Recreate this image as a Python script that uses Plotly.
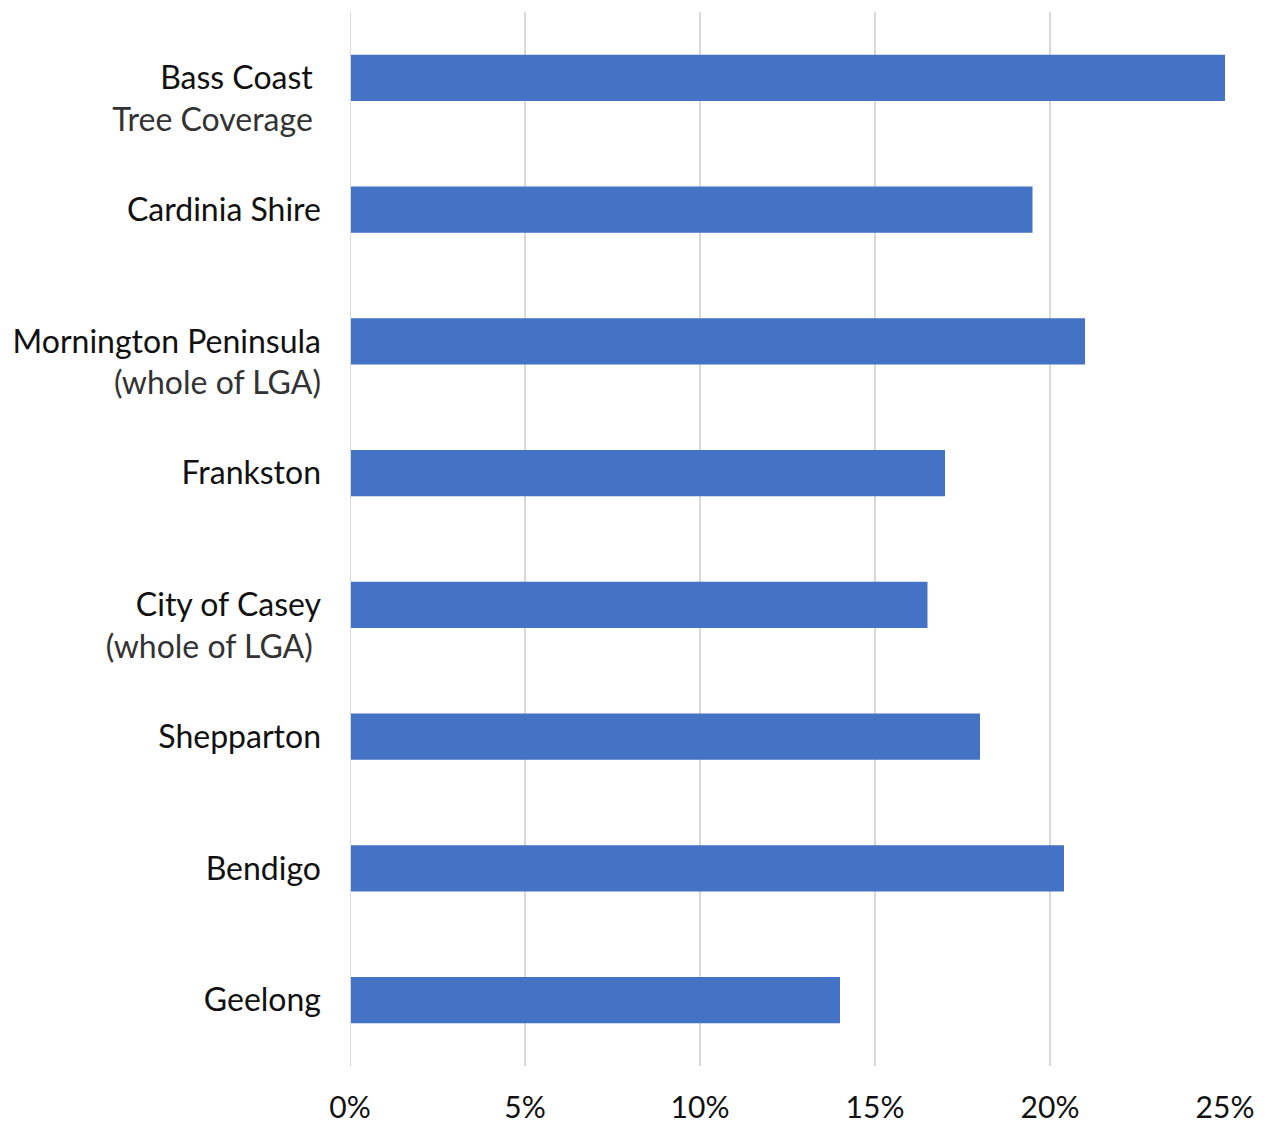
import plotly.graph_objects as go

categories = [
    "Bass Coast|Tree Coverage",
    "Cardinia Shire",
    "Mornington Peninsula|(whole of LGA)",
    "Frankston",
    "City of Casey|(whole of LGA)",
    "Shepparton",
    "Bendigo",
    "Geelong",
]
# small right-side indents seen in the reference label block
label_pad = [(1, 1), (0, 0), (0, 0), (0, 0), (0, 1), (0, 0), (0, 0), (0, 0)]
values = [0.25, 0.195, 0.21, 0.17, 0.165, 0.18, 0.204, 0.14]
tick_values = [0, 0.05, 0.10, 0.15, 0.20, 0.25]
tick_labels = ["0%", "5%", "10%", "15%", "20%", "25%"]

NB = "\u00a0"


def label(cat, pad):
    parts = cat.split("|")
    if len(parts) == 1:
        return parts[0] + NB * pad[0]
    # pad an empty line on top so that the first line sits on the bar centre
    return (NB + "<br>" + parts[0] + NB * pad[0]
            + "<br><span style='color:#333333'>" + parts[1] + NB * pad[1] + "</span>")


ids = list(range(len(categories)))
fig = go.Figure(
    go.Bar(
        x=values,
        y=ids,
        orientation="h",
        marker=dict(color="#4472C4", line=dict(width=0)),
        width=0.35,
    )
)

fig.update_layout(
    width=1269,
    height=1124,
    margin=dict(l=350, r=44, t=12, b=58, autoexpand=False),
    paper_bgcolor="white",
    plot_bgcolor="white",
    font=dict(family="Lato", size=32, color="#111111"),
    showlegend=False,
    shapes=[
        dict(type="line", xref="x", yref="paper", x0=0, x1=0, y0=0, y1=1,
             line=dict(color="#d9d9d9", width=2), layer="above"),
    ],
)
fig.update_xaxes(
    range=[0, 0.25],
    tickvals=tick_values,
    ticktext=tick_labels,
    tickfont=dict(size=30),
    showgrid=True,
    gridcolor="#d9d9d9",
    gridwidth=2,
    zeroline=False,
    showline=False,
    ticks="",
    ticklabelstandoff=21,
    automargin=False,
)
fig.update_yaxes(
    range=[len(categories) - 0.5, -0.5],
    tickvals=ids,
    ticktext=[label(c, p) for c, p in zip(categories, label_pad)],
    showgrid=False,
    zeroline=False,
    showline=False,
    ticks="",
    ticklabelstandoff=28,
    automargin=False,
)

fig.write_html("out.html")
